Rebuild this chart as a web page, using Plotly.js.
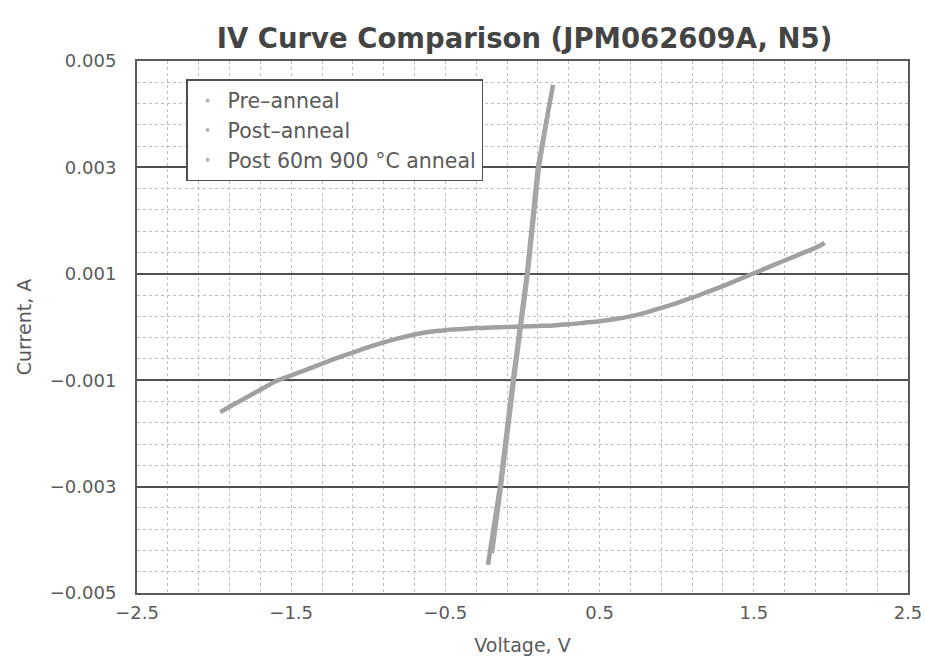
<!DOCTYPE html>
<html>
<head>
<meta charset="utf-8">
<script src="https://cdn.plot.ly/plotly-3.0.1.min.js"></script>
<style>html,body{margin:0;padding:0;background:#fff;}#chart{width:925px;height:667px;}</style>
</head>
<body>
<div id="chart"></div>
<script>
// Series names
var seriesNames = ["Pre\u2013anneal", "Post\u2013anneal", "Post 60m 900 \u00B0C anneal"];

// Pre-anneal (S-shaped curve)
var preV = [-1.96, -1.9, -1.8, -1.7, -1.6, -1.5, -1.4, -1.3, -1.2, -1.1, -1.0, -0.9, -0.8, -0.7, -0.6, -0.5, -0.4, -0.3, -0.2, -0.1, 0.0, 0.1, 0.2, 0.3, 0.4, 0.5, 0.6, 0.7, 0.8, 0.9, 1.0, 1.1, 1.2, 1.3, 1.4, 1.5, 1.6, 1.7, 1.8, 1.9, 1.96];
var preI = [-0.00160, -0.00150, -0.00134, -0.00118, -0.00102, -0.00091, -0.00080, -0.00069, -0.00058, -0.00048, -0.00038, -0.00029, -0.00021, -0.00014, -0.00009, -0.00006, -0.00004, -0.00002, -0.00001, 0.0, 0.00001, 0.00002, 0.00003, 0.00005, 0.00008, 0.00011, 0.00015, 0.00020, 0.00027, 0.00036, 0.00045, 0.00055, 0.00066, 0.00077, 0.00089, 0.00101, 0.00113, 0.00125, 0.00137, 0.00149, 0.00158];

// Post-anneal (steep line)
var postV = [-0.224, -0.146, -0.062, 0.029, 0.100, 0.198];
var postI = [-0.00447, -0.00300, -0.00100, 0.00100, 0.00300, 0.00455];

// Post 60m 900 C anneal (steep line, nearly overlapping)
var post900V = [-0.198, -0.140, -0.056, 0.034, 0.106, 0.165];
var post900I = [-0.00425, -0.00300, -0.00100, 0.00100, 0.00300, 0.00402];

// Axis ticks
var xTicks = [-2.5, -1.5, -0.5, 0.5, 1.5, 2.5];
var yTicks = [-0.005, -0.003, -0.001, 0.001, 0.003, 0.005];

var lineColor = "#a0a0a0";
var traces = [
  {x: preV, y: preI, mode: "lines", line: {color: lineColor, width: 4.5, shape: "spline", smoothing: 0.6}, showlegend: false, hoverinfo: "skip"},
  {x: postV, y: postI, mode: "lines", line: {color: lineColor, width: 4.5}, showlegend: false, hoverinfo: "skip"},
  {x: post900V, y: post900I, mode: "lines", line: {color: "#a6a6a6", width: 4.5}, showlegend: false, hoverinfo: "skip"},
  {x: [null], y: [null], name: seriesNames[0], mode: "markers", marker: {color: "#b4b4b4", size: 4}},
  {x: [null], y: [null], name: seriesNames[1], mode: "markers", marker: {color: "#b4b4b4", size: 4}},
  {x: [null], y: [null], name: seriesNames[2], mode: "markers", marker: {color: "#b4b4b4", size: 4}}
];

var fontFam = "DejaVu Sans, sans-serif";
var layout = {
  width: 925, height: 667,
  margin: {l: 137, r: 17, t: 61, b: 74},
  paper_bgcolor: "#ffffff", plot_bgcolor: "#ffffff",
  font: {family: fontFam, color: "#5a5a5a", size: 18},
  title: {text: "<b>IV Curve Comparison (JPM062609A, N5)</b>", x: 0.567, xanchor: "center", y: 0.943, yanchor: "middle",
          font: {family: fontFam, size: 27.5, color: "#444"}},
  xaxis: {
    range: [-2.5, 2.5], tickvals: xTicks, ticktext: xTicks.map(function(v){return v.toFixed(1).replace("-", "\u2212");}),
    showgrid: true, gridcolor: "#bdbdbd", griddash: "dot", gridwidth: 1,
    minor: {dtick: 0.2, tick0: -2.5, showgrid: true, gridcolor: "#bdbdbd", griddash: "dot", gridwidth: 1},
    zeroline: false, showline: true, mirror: true, linecolor: "#5a5a5a", linewidth: 2,
    ticks: "", ticklabelstandoff: 2,
    tickfont: {size: 18, color: "#5a5a5a"},
    title: {text: "Voltage, V", font: {size: 19, color: "#5a5a5a"}, standoff: 17}
  },
  yaxis: {
    range: [-0.005, 0.005], tickvals: yTicks, ticktext: yTicks.map(function(v){return v.toFixed(3).replace("-", "\u2212");}),
    showgrid: true, gridcolor: "#505050", gridwidth: 2,
    minor: {dtick: 0.0004, tick0: -0.005, showgrid: true, gridcolor: "#bdbdbd", griddash: "dot", gridwidth: 1},
    zeroline: false, showline: true, mirror: true, linecolor: "#5a5a5a", linewidth: 2,
    ticks: "", ticklabelstandoff: 15,
    tickfont: {size: 18, color: "#5a5a5a"},
    title: {text: "Current, A", font: {size: 19, color: "#5a5a5a"}, standoff: 13}
  },
  legend: {
    x: 0.0636, y: 0.966, xanchor: "left", yanchor: "top",
    bgcolor: "#ffffff", bordercolor: "#505050", borderwidth: 1.5,
    font: {size: 20.5, color: "#5a5a5a", family: fontFam},
    tracegroupgap: 0
  },
  showlegend: true
};

Plotly.newPlot("chart", traces, layout, {displayModeBar: false, staticPlot: true});
</script>
</body>
</html>
